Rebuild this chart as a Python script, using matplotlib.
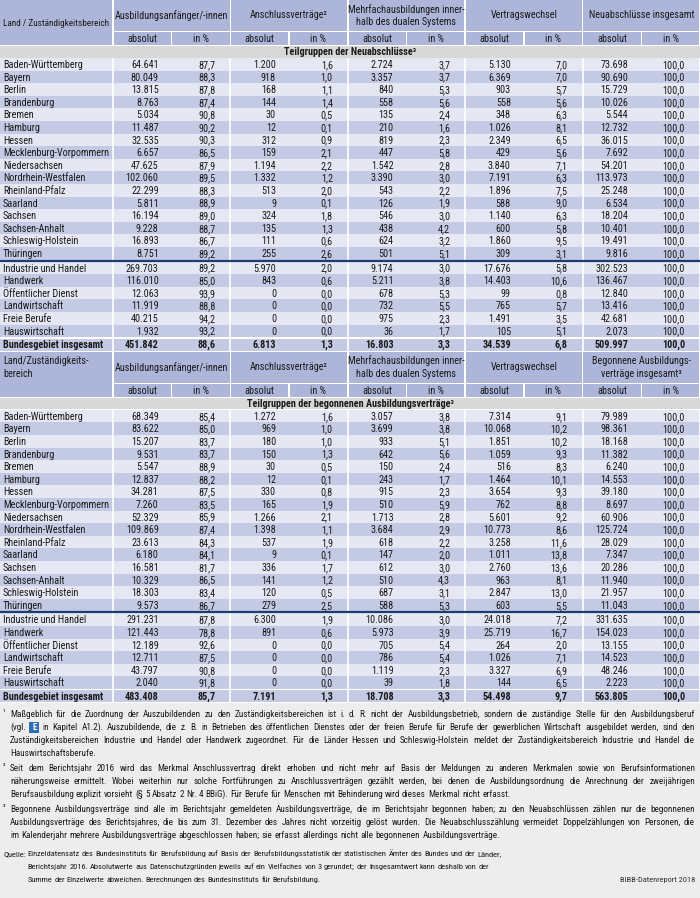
import matplotlib
matplotlib.use("Agg")
import matplotlib.pyplot as plt
from matplotlib.patches import Rectangle
from matplotlib import font_manager as fm

# ---- Daten ----
laender = ["Baden-Württemberg", "Bayern", "Berlin", "Brandenburg", "Bremen", "Hamburg",
           "Hessen", "Mecklenburg-Vorpommern", "Niedersachsen", "Nordrhein-Westfalen",
           "Rheinland-Pfalz", "Saarland", "Sachsen", "Sachsen-Anhalt", "Schleswig-Holstein",
           "Thüringen"]
bereiche = ["Industrie und Handel", "Handwerk", "Öffentlicher Dienst", "Landwirtschaft",
            "Freie Berufe", "Hauswirtschaft"]
gesamt = "Bundesgebiet insgesamt"
zeilen = laender + bereiche + [gesamt]

spalten_1 = ["Ausbildungsanfänger/-innen", "Anschlussverträge²",
             "Mehrfachausbildungen inner-\nhalb des dualen Systems", "Vertragswechsel",
             "Neuabschlüsse insgesamt"]
spalten_2 = ["Ausbildungsanfänger/-innen", "Anschlussverträge²",
             "Mehrfachausbildungen inner-\nhalb des dualen Systems", "Vertragswechsel",
             "Begonnene Ausbildungs-\nverträge insgesamt³"]
unterspalten = ["absolut", "in %"]

# Teilgruppen der Neuabschlüsse
nab_anf_abs = [64641, 80049, 13815, 8763, 5034, 11487, 32535, 6657, 47625, 102060, 22299,
               5811, 16194, 9228, 16893, 8751, 269703, 116010, 12063, 11919, 40215, 1932, 451842]
nab_anf_pct = [87.7, 88.3, 87.8, 87.4, 90.8, 90.2, 90.3, 86.5, 87.9, 89.5, 88.3, 88.9, 89.0,
               88.7, 86.7, 89.2, 89.2, 85.0, 93.9, 88.8, 94.2, 93.2, 88.6]
nab_ans_abs = [1200, 918, 168, 144, 30, 12, 312, 159, 1194, 1332, 513, 9, 324, 135, 111, 255,
               5970, 843, 0, 0, 0, 0, 6813]
nab_ans_pct = [1.6, 1.0, 1.1, 1.4, 0.5, 0.1, 0.9, 2.1, 2.2, 1.2, 2.0, 0.1, 1.8, 1.3, 0.6, 2.6,
               2.0, 0.6, 0.0, 0.0, 0.0, 0.0, 1.3]
nab_mehr_abs = [2724, 3357, 840, 558, 135, 210, 819, 447, 1542, 3390, 543, 126, 546, 438, 624,
                501, 9174, 5211, 678, 732, 975, 36, 16803]
nab_mehr_pct = [3.7, 3.7, 5.3, 5.6, 2.4, 1.6, 2.3, 5.8, 2.8, 3.0, 2.2, 1.9, 3.0, 4.2, 3.2, 5.1,
                3.0, 3.8, 5.3, 5.5, 2.3, 1.7, 3.3]
nab_wech_abs = [5130, 6369, 903, 558, 348, 1026, 2349, 429, 3840, 7191, 1896, 588, 1140, 600,
                1860, 309, 17676, 14403, 99, 765, 1491, 105, 34539]
nab_wech_pct = [7.0, 7.0, 5.7, 5.6, 6.3, 8.1, 6.5, 5.6, 7.1, 6.3, 7.5, 9.0, 6.3, 5.8, 9.5, 3.1,
                5.8, 10.6, 0.8, 5.7, 3.5, 5.1, 6.8]
nab_ges_abs = [73698, 90690, 15729, 10026, 5544, 12732, 36015, 7692, 54201, 113973, 25248,
               6534, 18204, 10401, 19491, 9816, 302523, 136467, 12840, 13416, 42681, 2073, 509997]
nab_ges_pct = [100.0, 100.0, 100.0, 100.0, 100.0, 100.0, 100.0, 100.0, 100.0, 100.0, 100.0,
               100.0, 100.0, 100.0, 100.0, 100.0, 100.0, 100.0, 100.0, 100.0, 100.0, 100.0, 100.0]

# Teilgruppen der begonnenen Ausbildungsverträge
beg_anf_abs = [68349, 83622, 15207, 9531, 5547, 12837, 34281, 7260, 52329, 109869, 23613,
               6180, 16581, 10329, 18303, 9573, 291231, 121443, 12189, 12711, 43797, 2040, 483408]
beg_anf_pct = [85.4, 85.0, 83.7, 83.7, 88.9, 88.2, 87.5, 83.5, 85.9, 87.4, 84.3, 84.1, 81.7,
               86.5, 83.4, 86.7, 87.8, 78.8, 92.6, 87.5, 90.8, 91.8, 85.7]
beg_ans_abs = [1272, 969, 180, 150, 30, 12, 330, 165, 1266, 1398, 537, 9, 336, 141, 120, 279,
               6300, 891, 0, 0, 0, 0, 7191]
beg_ans_pct = [1.6, 1.0, 1.0, 1.3, 0.5, 0.1, 0.8, 1.9, 2.1, 1.1, 1.9, 0.1, 1.7, 1.2, 0.5, 2.5,
               1.9, 0.6, 0.0, 0.0, 0.0, 0.0, 1.3]
beg_mehr_abs = [3057, 3699, 933, 642, 150, 243, 915, 510, 1713, 3684, 618, 147, 612, 510, 687,
                588, 10086, 5973, 705, 786, 1119, 39, 18708]
beg_mehr_pct = [3.8, 3.8, 5.1, 5.6, 2.4, 1.7, 2.3, 5.9, 2.8, 2.9, 2.2, 2.0, 3.0, 4.3, 3.1, 5.3,
                3.0, 3.9, 5.4, 5.4, 2.3, 1.8, 3.3]
beg_wech_abs = [7314, 10068, 1851, 1059, 516, 1464, 3654, 762, 5601, 10773, 3258, 1011, 2760,
                963, 2847, 603, 24018, 25719, 264, 1026, 3327, 144, 54498]
beg_wech_pct = [9.1, 10.2, 10.2, 9.3, 8.3, 10.1, 9.3, 8.8, 9.2, 8.6, 11.6, 13.8, 13.6, 8.1,
                13.0, 5.5, 7.2, 16.7, 2.0, 7.1, 6.9, 6.5, 9.7]
beg_ges_abs = [79989, 98361, 18168, 11382, 6240, 14553, 39180, 8697, 60906, 125724, 28029,
               7347, 20286, 11940, 21957, 11043, 331635, 154023, 13155, 14523, 48246, 2223, 563805]
beg_ges_pct = [100.0, 100.0, 100.0, 100.0, 100.0, 100.0, 100.0, 100.0, 100.0, 100.0, 100.0,
               100.0, 100.0, 100.0, 100.0, 100.0, 100.0, 100.0, 100.0, 100.0, 100.0, 100.0, 100.0]

tab1 = [nab_anf_abs, nab_anf_pct, nab_ans_abs, nab_ans_pct, nab_mehr_abs, nab_mehr_pct,
        nab_wech_abs, nab_wech_pct, nab_ges_abs, nab_ges_pct]
tab2 = [beg_anf_abs, beg_anf_pct, beg_ans_abs, beg_ans_pct, beg_mehr_abs, beg_mehr_pct,
        beg_wech_abs, beg_wech_pct, beg_ges_abs, beg_ges_pct]

fussnote_1 = ["Maßgeblich für die Zuordnung der Auszubildenden zu den Zuständigkeitsbereichen ist i. d. R. nicht der Ausbildungsbetrieb, sondern die zuständige Stelle für den Ausbildungsberuf",
              "(vgl. [E] in Kapitel A1.2). Auszubildende, die z. B. in Betrieben des öffentlichen Dienstes oder der freien Berufe für Berufe der gewerblichen Wirtschaft ausgebildet werden, sind den",
              "Zuständigkeitsbereichen Industrie und Handel oder Handwerk zugeordnet. Für die Länder Hessen und Schleswig-Holstein meldet der Zuständigkeitsbereich Industrie und Handel die",
              "Hauswirtschaftsberufe."]
fussnote_2 = ["Seit dem Berichtsjahr 2016 wird das Merkmal Anschlussvertrag direkt erhoben und nicht mehr auf Basis der Meldungen zu anderen Merkmalen sowie von Berufsinformationen",
              "näherungsweise ermittelt. Wobei weiterhin nur solche Fortführungen zu Anschlussverträgen gezählt werden, bei denen die Ausbildungsordnung die Anrechnung der zweijährigen",
              "Berufsausbildung explizit vorsieht (§ 5 Absatz 2 Nr. 4 BBiG). Für Berufe für Menschen mit Behinderung wird dieses Merkmal nicht erfasst."]
fussnote_3 = ["Begonnene Ausbildungsverträge sind alle im Berichtsjahr gemeldeten Ausbildungsverträge, die im Berichtsjahr begonnen haben; zu den Neuabschlüssen zählen nur die begonnenen",
              "Ausbildungsverträge des Berichtsjahres, die bis zum 31. Dezember des Jahres nicht vorzeitig gelöst wurden. Die Neuabschlusszählung vermeidet Doppelzählungen von Personen, die",
              "im Kalenderjahr mehrere Ausbildungsverträge abgeschlossen haben; sie erfasst allerdings nicht alle begonnenen Ausbildungsverträge."]
quelle = ["Einzeldatensatz des Bundesinstituts für Berufsbildung auf Basis der Berufsbildungsstatistik der statistischen Ämter des Bundes und der Länder,",
          "Berichtsjahr 2016. Absolutwerte aus Datenschutzgründen jeweils auf ein Vielfaches von 3 gerundet; der Insgesamtwert kann deshalb von der",
          "Summe der Einzelwerte abweichen. Berechnungen des Bundesinstituts für Berufsbildung."]


# ---- Schrift: eine schmale Schrift suchen ----
bevorzugt = ['Roboto Condensed', 'Liberation Sans Narrow', 'Noto Sans', 'Open Sans',
             'DejaVu Sans', 'Roboto', 'Lato', 'Inter']


def suche_schrift(gewicht):
    kand = []
    for f in fm.fontManager.ttflist:
        if f.style != 'normal':
            continue
        nm = f.name
        st = str(f.stretch)
        if 'Mono' in nm or 'Serif' in nm or 'CJK' in nm:
            continue
        schmal = ('Narrow' in nm or 'Condensed' in nm or 'condensed' in st)
        if not schmal:
            continue
        if 'Extra' in nm or 'Ultra' in nm or st in ('extra-condensed', 'ultra-condensed'):
            grad = 2
        elif 'Semi' in nm or st == 'semi-condensed':
            grad = 1
        else:
            grad = 0
        w = f.weight if isinstance(f.weight, int) else fm.weight_dict.get(f.weight, 400)
        rang = next((i for i, b in enumerate(bevorzugt) if nm.startswith(b)), 99)
        kand.append((rang, grad, abs(w - gewicht), f.fname))
    kand.sort()
    return kand[0][3] if kand else None


pfad_r = suche_schrift(400)
pfad_b = suche_schrift(700)
if pfad_r:
    FP_R = fm.FontProperties(fname=pfad_r)
else:
    FP_R = fm.FontProperties(family='DejaVu Sans', stretch='condensed')
if pfad_b:
    FP_B = fm.FontProperties(fname=pfad_b)
else:
    FP_B = FP_R.copy()
    FP_B.set_weight('bold')

# ---- Layout ----
W, H = 700, 898
C_HEAD = '#adb6d9'
C_LIGHT = '#e5e8f3'
C_DARK = '#c4cae3'
C_GREY = '#d8d8d8'
C_LINE = '#1d3c74'
C_FOOT = '#ededed'
C_TEXT = '#1a1a1a'

X_LAND = 113
GW = (W - X_LAND) / 5
SW = GW / 2
RH = 12.6
PAD_ABS = 13
PAD_PCT = 15

fig = plt.figure(figsize=(7, 8.98), dpi=100)
ax = fig.add_axes([0, 0, 1, 1])
ax.set_xlim(0, W)
ax.set_ylim(H, 0)
ax.axis('off')
fig.canvas.draw()
renderer = fig.canvas.get_renderer()


def T(x, y, s, size, bold=False, **kw):
    fp = (FP_B if bold else FP_R).copy()
    fp.set_size(size)
    kw.setdefault('color', C_TEXT)
    return ax.text(x, y, s, fontproperties=fp, **kw)


def breite(s, size, bold=False):
    t = T(0, 0, s, size, bold)
    b = t.get_window_extent(renderer).width
    t.remove()
    return b


# Schriftgroessen so waehlen, dass die Textbreiten der Vorlage passen
FS = min(7.8, 10 * 106 / breite("Mecklenburg-Vorpommern", 10))
FFS = min(7.8, 10 * 494 / breite(fussnote_2[-1], 10))
QFS = FFS * 0.92
BASE = 0.36 * FS * 100 / 72   # halbe Versalhoehe in Pixeln
FS_LAND = min(FS, 10 * 105 / breite("Land / Zuständigkeitsbereich", 10))


def box(x, y, w, h, c):
    ax.add_patch(Rectangle((x, y), w, h, facecolor=c, edgecolor='none', linewidth=0))


def fmt_abs(v):
    return f"{v:,}".replace(",", ".")


def fmt_pct(v):
    return f"{v:.1f}".replace(".", ",")


def tabelle(top, land_label, land_top, spalten, titel, werte):
    # Kopf
    box(0, top, X_LAND - 0.75, 45, C_HEAD)
    if land_top:
        T(3, top + 4, land_label, FS, va='top', ha='left', linespacing=1.35)
    else:
        T(3, top + 22.5 + BASE, land_label, FS_LAND, va='baseline', ha='left')
    for g, lab in enumerate(spalten):
        gx = X_LAND + g * GW
        box(gx + 0.75, top, GW - 1.5, 31, C_HEAD)
        T(gx + GW / 2, top + 15.5, lab, FS, va='center', ha='center', linespacing=1.35)
        for s, ul in enumerate(unterspalten):
            sx = gx + s * SW
            box(sx + 0.75, top + 32, SW - 1.5, 13, C_HEAD)
            T(sx + SW / 2, top + 38.5 + BASE, ul, FS, va='baseline', ha='center')
    # Zwischenzeile
    box(0, top + 46, W, 11.5, C_GREY)
    T(W / 2, top + 51.7 + BASE, titel, FS, bold=True, va='baseline', ha='center')
    # Datenzeilen
    y0 = top + 58
    ys = []
    for i in range(len(zeilen)):
        if i < 16:
            y = y0 + i * RH
            c = C_LIGHT if i % 2 == 0 else C_DARK
        elif i < 22:
            y = y0 + 16 * RH + 2 + (i - 16) * RH
            c = C_LIGHT if (i - 16) % 2 == 0 else C_DARK
        else:
            y = y0 + 16 * RH + 2 + 6 * RH + 0.8
            c = C_DARK
        box(0, y, W, RH, c)
        ys.append(y + RH / 2)
    y_end = ys[-1] + RH / 2
    # weisse Trennlinien
    for g in range(6):
        gx = X_LAND + g * GW
        ax.plot([gx, gx], [y0, y_end], color='white', lw=1.2, solid_capstyle='butt')
    ax.plot([0, W], [ys[-1] - RH / 2 - 0.4] * 2, color='white', lw=0.8)
    ax.plot([0, W], [y0 + 16 * RH + 1] * 2, color=C_LINE, lw=1.6, solid_capstyle='butt')
    # Texte
    for i, name in enumerate(zeilen):
        fett = i == 22
        yb = ys[i] + BASE
        T(3, yb, name, FS, bold=fett, va='baseline', ha='left')
        for k, spalte in enumerate(werte):
            v = spalte[i]
            if k % 2 == 0:
                txt, pad = fmt_abs(v), PAD_ABS
            else:
                txt, pad = fmt_pct(v), PAD_PCT
            xr = X_LAND + (k + 1) * SW - pad
            T(xr, yb, txt, FS, bold=fett, va='baseline', ha='right')
    return y_end


y_end1 = tabelle(0, "Land / Zuständigkeitsbereich", False, spalten_1,
                 "Teilgruppen der Neuabschlüsse³", tab1)
y_end2 = tabelle(y_end1 + 1.2, "Land/Zuständigkeits-\nbereich", True, spalten_2,
                 "Teilgruppen der begonnenen Ausbildungsverträge³", tab2)

# ---- Fussnoten ----
box(0, y_end2 + 1, W, H - y_end2 - 1, C_FOOT)


def zeile(x0, x1, y, text, justify, size):
    leer = breite("a b", size) - breite("ab", size)
    worte = text.split(" ")
    breiten = [10 if w == "[E]" else breite(w, size) for w in worte]
    if justify and len(worte) > 1:
        gap = (x1 - x0 - sum(breiten)) / (len(worte) - 1)
    else:
        gap = leer
    x = x0
    for w, b in zip(worte, breiten):
        if w == "[E]":
            box(x, y - 5.5, b, 11, '#2f6db5')
            T(x + b / 2, y, "E", size, bold=True, va='center', ha='center', color='white')
        else:
            T(x, y, w, size, va='center', ha='left')
        x += b + gap


LS = 13.1
y = y_end2 + 12
for nr, fn in zip(["¹", "²", "³"], [fussnote_1, fussnote_2, fussnote_3]):
    T(3, y - 1.5, nr, FFS - 1, va='center', ha='left')
    for j, l in enumerate(fn):
        zeile(10, 695, y, l, j < len(fn) - 1, FFS)
        y += LS
    y += 1.5

y += 4
T(3, y, "Quelle:", QFS, va='center', ha='left')
xq = 3 + breite("Quelle:", QFS) + breite("a b", QFS) - breite("ab", QFS)
for l in quelle:
    zeile(xq, 690, y, l, False, QFS)
    y += LS
T(695, y - LS, "BIBB-Datenreport 2018", QFS, va='center', ha='right', color='#333333')

fig.savefig("out.png", dpi=100)
